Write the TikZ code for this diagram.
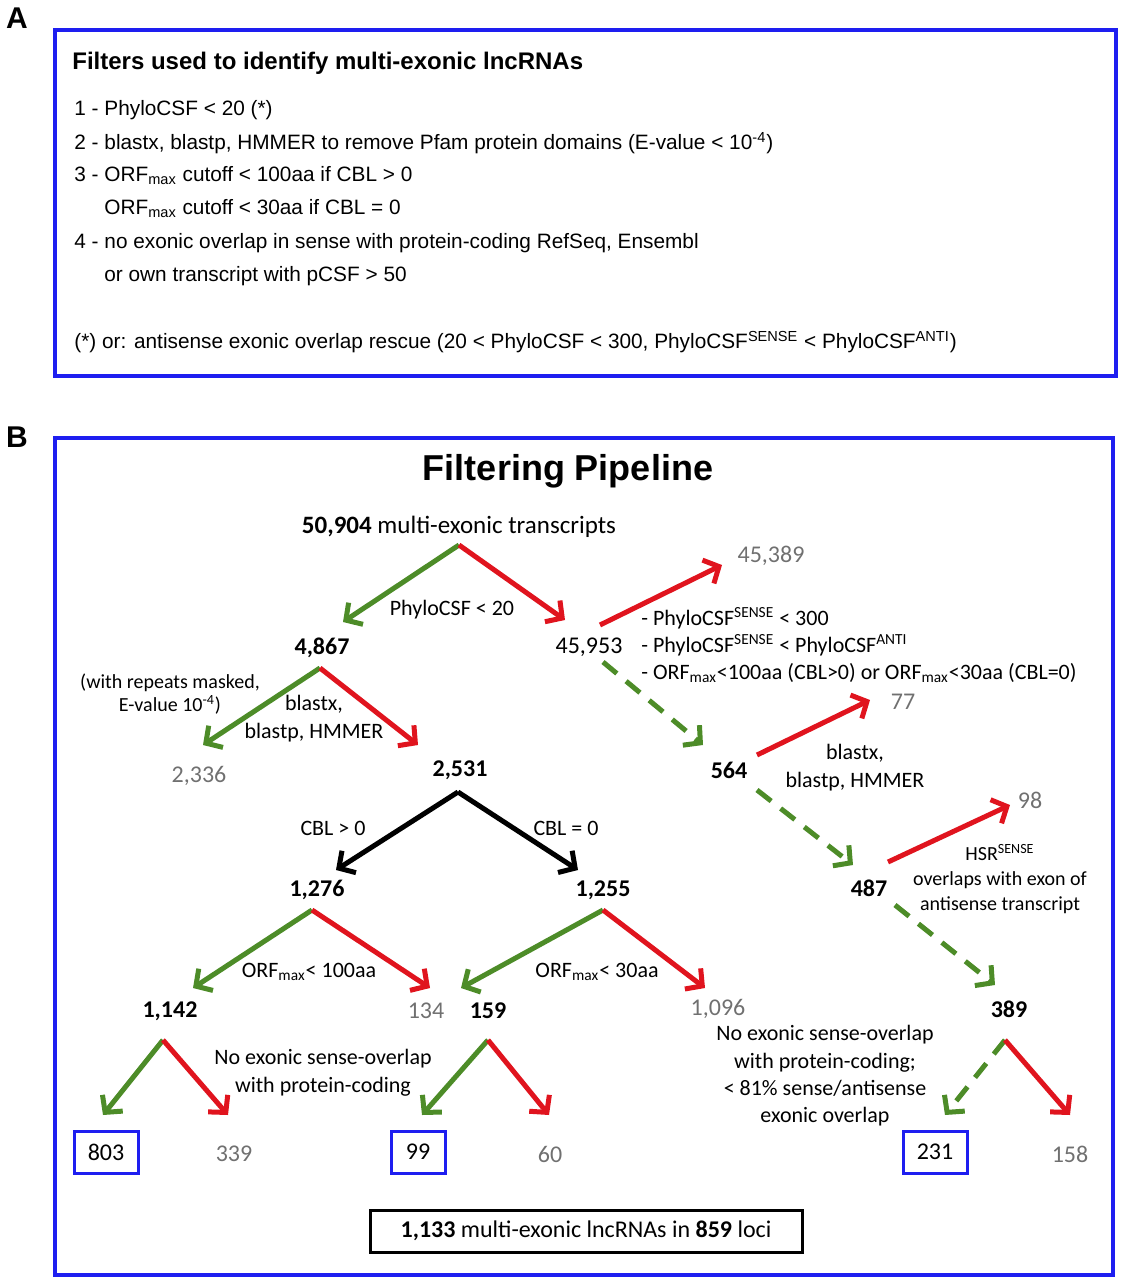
\documentclass[tikz,border=0pt]{standalone}
\usepackage{fontspec}
\setmainfont{Carlito}
\newfontfamily\arialf{Liberation Sans}
\usetikzlibrary{arrows.meta}
\definecolor{gr}{HTML}{4D8C28}
\definecolor{rd}{HTML}{E0141E}
\definecolor{gy}{HTML}{707070}
\definecolor{bl}{HTML}{1E1EF0}
\begin{document}
\begin{tikzpicture}[x=0.5pt,y=-0.5pt,
 arr/.style={line width=2.5pt,-{Straight Barb[length=6pt,width=13pt]}},
 g/.style={arr,gr}, r/.style={arr,rd}, k/.style={arr,black},
 gd/.style={arr,gr,dash pattern=on 9pt off 6pt},
 t/.style={font=\fontsize{11}{13}\selectfont,inner sep=0pt},
 num/.style={font=\fontsize{12}{14}\selectfont\bfseries,inner sep=0pt},
 gn/.style={font=\fontsize{12}{14}\selectfont,text=gy,inner sep=0pt},
 ta/.style={font=\arialf\fontsize{10.4}{12}\selectfont,anchor=west,inner sep=0pt},
 box/.style={draw=bl,line width=1.5pt,minimum width=32pt,minimum height=21pt,font=\fontsize{12}{14}\selectfont}]
\useasboundingbox (0,0) rectangle (1123,1280);
\node[font=\arialf\bfseries\fontsize{15}{17}\selectfont] (lA) at (17,18) {A};
\node[font=\arialf\bfseries\fontsize{15}{17}\selectfont] (lB) at (17,437) {B};
\draw[bl,line width=2pt] (55,30) rectangle (1116,376);
\node[ta,font=\arialf\bfseries\fontsize{12}{14}\selectfont] (at0) at (72,63) {Filters used to identify multi-exonic lncRNAs};
\node[ta] (a1) at (74,110) {1 - PhyloCSF < 20 (*)};
\node[ta] (a2) at (74,143) {2 - blastx, blastp, HMMER to remove Pfam protein domains (E-value < 10\textsuperscript{-4})};
\node[ta] (a3) at (74,176) {3 - ORF\textsubscript{max} cutoff < 100aa if CBL > 0};
\node[ta] (a4) at (104,209) {ORF\textsubscript{max} cutoff < 30aa if CBL = 0};
\node[ta] (a5) at (74,243) {4 - no exonic overlap in sense with protein-coding RefSeq, Ensembl};
\node[ta] (a6) at (104,276) {or own transcript with pCSF > 50};
\node[ta] (a7) at (74,342) {(*) or: antisense exonic overlap rescue (20 < PhyloCSF < 300, PhyloCSF\textsuperscript{SENSE} < PhyloCSF\textsuperscript{ANTI})};
\draw[bl,line width=2pt] (55,438) rectangle (1113,1275);
\node[font=\arialf\bfseries\fontsize{18}{20}\selectfont] (title) at (568,471) {Filtering Pipeline};
% nodes
\node[t,font=\fontsize{12.5}{14}\selectfont] (n0) at (459,527) {\textbf{50,904} multi-exonic transcripts};
\node[num] (n1) at (322,648) {4,867};
\node[gn,text=black] (n2) at (589,647) {45,953};
\node[gn] (n3) at (771,556) {45,389};
\node[gn] (n4) at (199,776) {2,336};
\node[num] (n5) at (460,770) {2,531};
\node[num] (n6) at (729,770) {564};
\node[gn] (n7) at (903,702) {77};
\node[num] (n8) at (317,890) {1,276};
\node[num] (n9) at (603,890) {1,255};
\node[num] (n10) at (869,888) {487};
\node[gn] (n11) at (1030,800) {98};
\node[num] (n12) at (170,1011) {1,142};
\node[gn] (n13) at (426,1011) {134};
\node[num] (n14) at (488,1011) {159};
\node[gn] (n15) at (718,1009) {1,096};
\node[num] (n16) at (1009,1009) {389};
\node[box] (b1) at (106,1152) {803};
\node[gn] (n17) at (234,1154) {339};
\node[box,minimum width=27pt] (b2) at (418,1152) {99};
\node[gn] (n18) at (550,1154) {60};
\node[box] (b3) at (935,1152) {231};
\node[gn] (n19) at (1070,1154) {158};
\node[draw,line width=1.5pt,minimum width=216pt,minimum height=21pt,font=\fontsize{12}{14}\selectfont] (fin) at (586,1231) {\textbf{1,133} multi-exonic lncRNAs in \textbf{859} loci};
% labels
\node[t] (l1) at (452,610) {PhyloCSF < 20};
\node[t,align=center,font=\fontsize{10}{11.5}\selectfont] (l2) at (170,694) {(with repeats masked,\\E-value 10\textsuperscript{-4})};
\node[t,align=center] (l3) at (314,719) {blastx,\\[1pt]blastp, HMMER};
\node[t] (l4) at (333,828) {CBL > 0};
\node[t] (l5) at (566,828) {CBL = 0};
\node[t] (l6) at (309,972) {ORF\textsubscript{max}< 100aa};
\node[t] (l7) at (597,972) {ORF\textsubscript{max}< 30aa};
\node[t,align=center] (l8) at (323,1073) {No exonic sense-overlap\\[1pt]with protein-coding};
\node[t,anchor=west] (l9) at (641,618) {- PhyloCSF\textsuperscript{SENSE} < 300};
\node[t,anchor=west] (l10) at (641,645) {- PhyloCSF\textsuperscript{SENSE} < PhyloCSF\textsuperscript{ANTI}};
\node[t,anchor=west] (l11) at (641,673) {- ORF\textsubscript{max}<100aa (CBL>0) or ORF\textsubscript{max}<30aa (CBL=0)};
\node[t,align=center] (l12) at (855,768) {blastx,\\[1pt]blastp, HMMER};
\node[t,align=center,font=\fontsize{10}{12.5}\selectfont] (l13) at (1000,879) {HSR\textsuperscript{SENSE}\\overlaps with exon of\\antisense transcript};
\node[t,align=center,font=\fontsize{11}{13.7}\selectfont] (l14) at (825,1076) {No exonic sense-overlap\\with protein-coding;\\< 81\% sense/antisense\\exonic overlap};
% arrow coordinates
\coordinate (s0) at (459,545); \coordinate (e0g) at (343,622); \coordinate (e0r) at (565,620);
\coordinate (s1) at (320,668); \coordinate (e1g) at (203,745); \coordinate (e1r) at (418,745);
\coordinate (s2) at (458,792); \coordinate (e2a) at (336,870); \coordinate (e2b) at (578,870);
\coordinate (s3) at (312,910); \coordinate (e3g) at (193,988); \coordinate (e3r) at (430,988);
\coordinate (s4) at (603,910); \coordinate (e4g) at (461,988); \coordinate (e4r) at (705,988);
\coordinate (s5) at (163,1040); \coordinate (e5g) at (103,1115); \coordinate (e5r) at (228,1115);
\coordinate (s6) at (488,1040); \coordinate (e6g) at (422,1115); \coordinate (e6r) at (549,1115);
\coordinate (s7r) at (600,625); \coordinate (e7r) at (722,565);
\coordinate (s7g) at (603,662); \coordinate (e7g) at (703,745);
\coordinate (s8r) at (757,755); \coordinate (e8r) at (870,700);
\coordinate (s8g) at (757,790); \coordinate (e8g) at (853,865);
\coordinate (s9r) at (888,862); \coordinate (e9r) at (1010,805);
\coordinate (s9g) at (895,905); \coordinate (e9g) at (995,985);
\coordinate (s10) at (1005,1040); \coordinate (e10g) at (945,1115); \coordinate (e10r) at (1070,1115);
\draw[g] (s0) -- (e0g); \draw[r] (s0) -- (e0r);
\draw[g] (s1) -- (e1g); \draw[r] (s1) -- (e1r);
\draw[k] (s2) -- (e2a); \draw[k] (s2) -- (e2b);
\draw[g] (s3) -- (e3g); \draw[r] (s3) -- (e3r);
\draw[g] (s4) -- (e4g); \draw[r] (s4) -- (e4r);
\draw[g] (s5) -- (e5g); \draw[r] (s5) -- (e5r);
\draw[g] (s6) -- (e6g); \draw[r] (s6) -- (e6r);
\draw[r] (s7r) -- (e7r); \draw[gd] (s7g) -- (e7g);
\draw[r] (s8r) -- (e8r); \draw[gd] (s8g) -- (e8g);
\draw[r] (s9r) -- (e9r); \draw[gd] (s9g) -- (e9g);
\draw[gd] (s10) -- (e10g); \draw[r] (s10) -- (e10r);
\end{tikzpicture}
\end{document}
